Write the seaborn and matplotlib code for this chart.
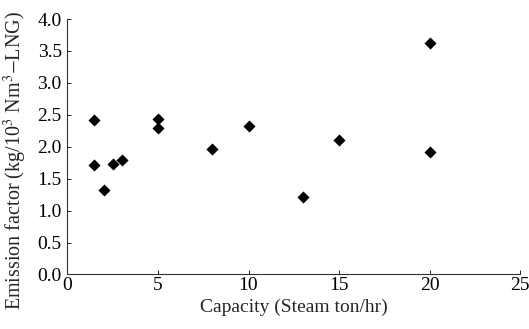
import numpy as np
import pandas as pd
import matplotlib
matplotlib.use('Agg')
import matplotlib.pyplot as plt
import seaborn as sns

# Data
capacity = [1.5, 1.5, 2, 2.5, 3, 5, 5, 8, 10, 13, 15, 20, 20]
emission = [2.42, 1.71, 1.33, 1.73, 1.79, 2.43, 2.30, 1.97, 2.32, 1.21, 2.11, 3.62, 1.92]
x_ticks = [0, 5, 10, 15, 20, 25]
y_ticks = [0.0, 0.5, 1.0, 1.5, 2.0, 2.5, 3.0, 3.5, 4.0]

df = pd.DataFrame({'capacity': capacity, 'emission': emission})

sns.set_style('ticks')
plt.rcParams['font.family'] = ['Liberation Serif', 'DejaVu Serif']
plt.rcParams['mathtext.fontset'] = 'stix'

fig = plt.figure(figsize=(5.29, 3.29), dpi=100)
ax = fig.add_axes([0.1272, 0.1657, 0.8564, 0.7765])
sns.scatterplot(data=df, x='capacity', y='emission', marker='D', s=38,
                color='black', edgecolor='black', linewidth=0, ax=ax)

ax.set_xlim(0, 25)
ax.set_ylim(0, 4.0)
ax.set_xticks(x_ticks)
ax.set_yticks(y_ticks)
ax.set_yticklabels([f'{v:.1f}' for v in y_ticks])
ax.tick_params(direction='in', length=3, width=0.6, labelsize=14, colors='black')
ax.tick_params(axis='x', pad=2)
ax.tick_params(axis='y', pad=4)
for side in ['top', 'right']:
    ax.spines[side].set_visible(False)
for side in ['left', 'bottom']:
    ax.spines[side].set_linewidth(0.8)
    ax.spines[side].set_color('#333333')

ax.set_xlabel('Capacity (Steam ton/hr)', fontsize=14, labelpad=3)
ax.set_ylabel('Emission factor (kg/10$^3$ Nm$^3$$-$LNG)', fontsize=14.5)
ax.yaxis.set_label_coords(-0.085, 0.445)

fig.savefig('out.png', dpi=100)
